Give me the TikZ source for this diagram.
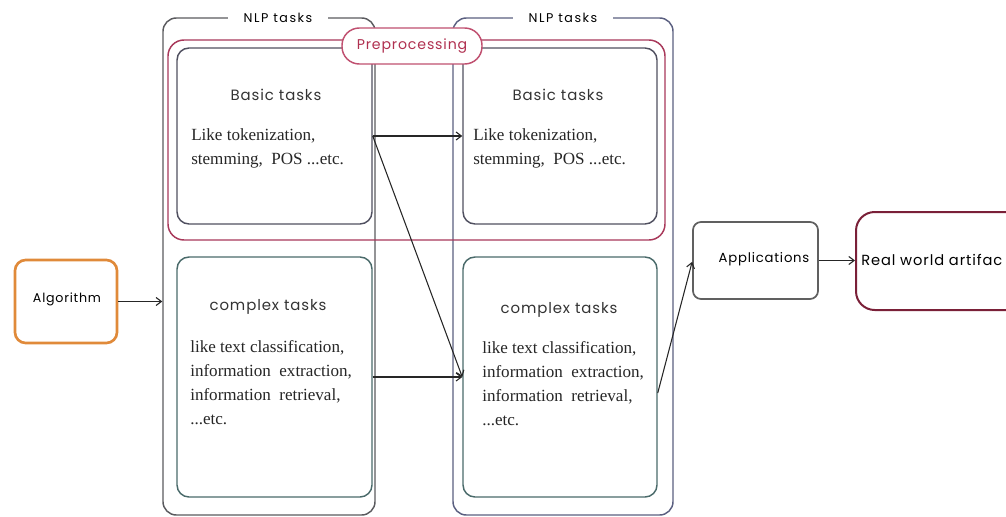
\documentclass[tikz,border=0pt]{standalone}
\usepackage{fontspec}
\setmainfont{Liberation Serif}
\newfontfamily\gothic[LetterSpace=6]{Poppins}
\newfontfamily\gothicwide[LetterSpace=12]{Poppins}
\usetikzlibrary{fit,arrows.meta,calc}
\definecolor{outerL}{HTML}{5A5A5E}
\definecolor{outerR}{HTML}{5A5F80}
\definecolor{prepro}{HTML}{A8385A}
\definecolor{pill}{HTML}{C05070}
\definecolor{pilltext}{HTML}{B03050}
\definecolor{basicc}{HTML}{505060}
\definecolor{complexc}{HTML}{4A6A6A}
\definecolor{algoc}{HTML}{E08A3A}
\definecolor{appc}{HTML}{606060}
\definecolor{realc}{HTML}{7A2038}
\tikzset{
  outerbox/.style={draw, line width=1.1pt, rounded corners=10pt, inner sep=0pt},
  innerbox/.style={draw, line width=1.1pt, rounded corners=9pt, inner sep=0pt},
  gtitle/.style={font=\gothic\fontsize{11.2}{13}\selectfont, text=black!80, inner sep=0pt},
  grouplabel/.style={font=\gothicwide\fontsize{9.5}{11}\selectfont, fill=white, inner xsep=12pt, inner ysep=2pt},
  bodytext/.style={font=\fontsize{12.8}{18}\selectfont, align=left, inner sep=0pt, anchor=west, text=black!85},
  conn/.style={-{Straight Barb[length=4pt,width=6pt]}, line width=0.8pt, draw=black!85},
}
\begin{document}
\begin{tikzpicture}[x=0.75pt,y=-0.75pt]
\useasboundingbox (0,0) rectangle (1006,517);
\clip (0,0) rectangle (1006,517);

% two groups of NLP tasks
\node[outerbox, draw=outerL, fit={(163,18) (375,515)}] (lo) {};
\node[outerbox, draw=outerR, fit={(453,18) (673,515)}] (ro) {};
\node[grouplabel] (lol) at (278,18) {NLP tasks};
\node[grouplabel] (rol) at (563,18) {NLP tasks};

% preprocessing band across both groups
\node[draw=prepro, line width=1.1pt, rounded corners=12pt, inner sep=0pt, fit={(168,40) (665,240)}] (pre) {};

% basic and complex task boxes
\node[innerbox, draw=basicc, fit={(177,48) (372,224)}] (lb) {};
\node[innerbox, draw=basicc, fit={(463,48) (657,224)}] (rb) {};
\node[innerbox, draw=complexc, fit={(177,257) (372,497)}] (lc) {};
\node[innerbox, draw=complexc, fit={(463,257) (657,497)}] (rc) {};

% preprocessing tag
\node[draw=pill, fill=white, line width=1.1pt, rounded corners=13pt, minimum width=105pt, minimum height=27pt,
      font=\gothic\fontsize{10.6}{12}\selectfont, text=pilltext] (pill) at (412,46) {Preprocessing};

% titles and descriptions
\node[gtitle] (lbt) at (276,95) {Basic tasks};
\node[gtitle] (rbt) at (558,95) {Basic tasks};
\node[gtitle] (lct) at (268,307) {complex tasks};
\node[gtitle] (rct) at (559,310) {complex tasks};

\node[bodytext] (lbb) at (191,148) {Like tokenization,\\stemming, \ POS ...etc.};
\node[bodytext] (rbb) at (473,148) {Like tokenization,\\stemming, \ POS ...etc.};
\node[bodytext] (lcb) at (190,383) {like text classification,\\information \ extraction,\\information \ retrieval,\\...etc.};
\node[bodytext] (rcb) at (482,384) {like text classification,\\information \ extraction,\\information \ retrieval,\\...etc.};

% algorithm, applications, real world artifact
\node[draw=algoc, line width=2pt, rounded corners=8pt, inner sep=0pt, fit={(15,260) (117,343)}] (alg) {};
\node[font=\gothic\fontsize{9.5}{11}\selectfont] (algt) at (67,299) {Algorithm};
\node[draw=appc, line width=1.3pt, rounded corners=6pt, inner sep=0pt, fit={(693,222) (818,299)}] (app) {};
\node[font=\gothic\fontsize{9.9}{11}\selectfont] (appt) at (764,259) {Applications};
\node[draw=realc, line width=1.5pt, rounded corners=14pt, inner sep=0pt, fit={(856,212) (1030,310)}] (rw) {};
\node[font=\gothic\fontsize{11}{13}\selectfont, anchor=west, inner sep=0pt] (rwt) at (861,260) {Real world artifac};

% connectors
\draw[conn] (alg.east) -- (alg.east -| lo.west);
\draw[conn] (lb.east) -- (rb.west);
\draw[conn] (lb.east) -- (rc.west);
\draw[conn] (lc.east) -- (rc.west);
\draw[conn] ([yshift=-12pt]rc.east) -- ([yshift=-1pt]app.west);
\draw[conn] (app.east) -- (app.east -| rw.west);
\end{tikzpicture}
\end{document}
